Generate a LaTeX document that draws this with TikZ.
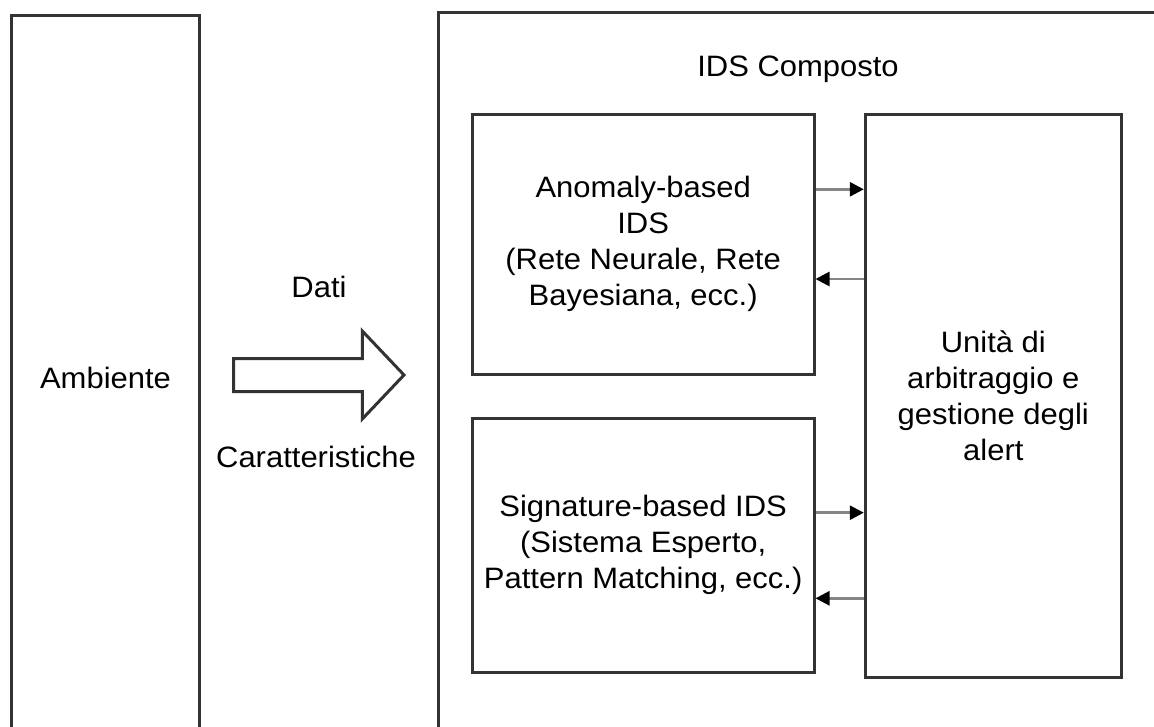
\documentclass[tikz,border=0pt]{standalone}
\usepackage{fontspec}
\setmainfont{Liberation Sans}[FakeStretch=1.05]
\usetikzlibrary{arrows.meta}
\definecolor{edgegray}{HTML}{333333}
\definecolor{wiregray}{HTML}{858585}
\newcommand\diagfont{\fontsize{29.5}{36}\selectfont}

\begin{document}
\begin{tikzpicture}[x=1pt,y=-1pt,
  box/.style={draw=edgegray,line width=3pt,fill=white,inner sep=0pt,
              align=center,font=\diagfont},
  caption/.style={inner sep=0pt,font=\diagfont},
  link/.style={draw=wiregray,line width=2.7pt,
               -{Triangle[length=14pt,width=14pt,color=black,fill=black]}},
  blockarrow/.style={draw=edgegray,line width=3pt,fill=white,line join=miter}]

  % page frame
  \useasboundingbox (0,0) rectangle (1154,726);
  \clip (0,0) rectangle (1154,726);
  \fill[white] (0,0) rectangle (1154,726);

  % environment and composite IDS containers (run off the page)
  \node[box,minimum width=188pt,minimum height=724.5pt] (env)
    at (105.5,377.75) {Ambiente};
  \node[box,minimum width=721.5pt,minimum height=728pt] (ids)
    at (799.25,376) {};
  \node[caption,anchor=base] (idstitle) at (798,76) {IDS Composto};

  % inner detectors and arbitration unit
  \node[box,minimum width=341.7pt,minimum height=259.3pt] (anom)
    at (643.15,244.35) {Anomaly-based\\IDS\\(Rete Neurale, Rete\\Bayesiana, ecc.)};
  \node[box,minimum width=341.7pt,minimum height=254.7pt] (sig)
    at (643.15,545.35) {Signature-based IDS\\(Sistema Esperto,\\Pattern Matching, ecc.)};
  \node[box,minimum width=256pt,minimum height=563pt] (unit)
    at (993.3,396.2) {Unità di\\arbitraggio e\\gestione degli\\alert};

  % data flow from the environment
  \draw[blockarrow] (233.7,358.5) -- (362.3,358.5) -- (362.3,331) -- (404,375)
    -- (362.3,419) -- (362.3,391.5) -- (233.7,391.5) -- cycle;
  \node[caption,anchor=base] (dati) at (319,297.3) {Dati};
  \node[caption,anchor=base] (feat) at (316,467) {Caratteristiche};

  % exchanges between detectors and the arbitration unit
  \draw[link] (anom.east |- 0,189.3) -- (unit.west |- 0,189.3);
  \draw[link] (unit.west |- 0,279) -- (anom.east |- 0,279);
  \draw[link] (sig.east |- 0,512.7) -- (unit.west |- 0,512.7);
  \draw[link] (unit.west |- 0,598.3) -- (sig.east |- 0,598.3);
\end{tikzpicture}
\end{document}
